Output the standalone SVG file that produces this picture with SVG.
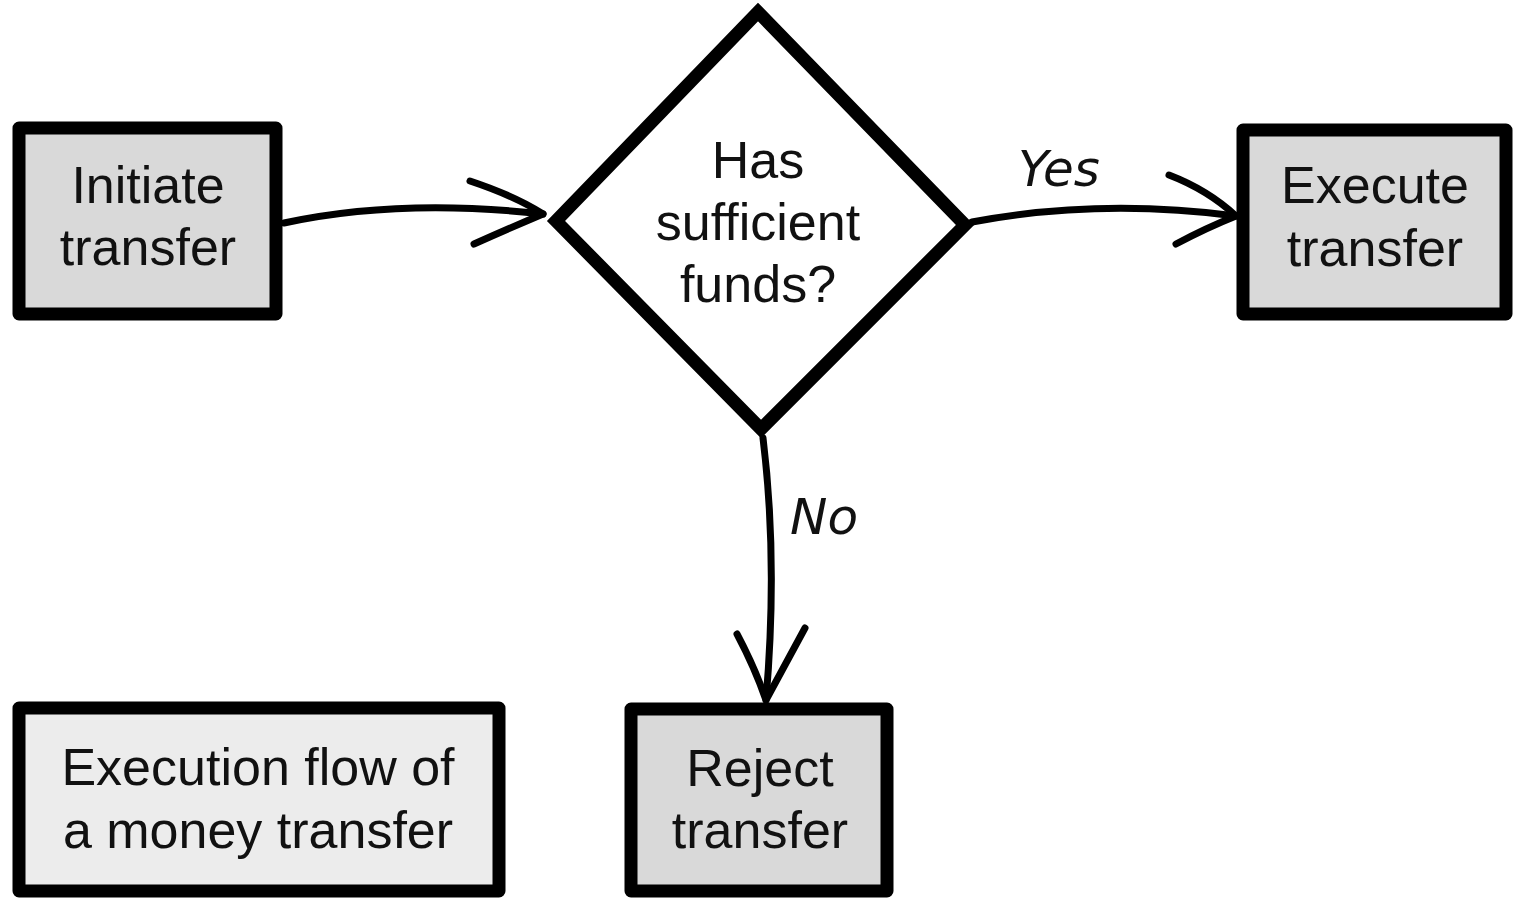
<svg xmlns="http://www.w3.org/2000/svg" width="1523" height="901" viewBox="0 0 1523 901">
<style>
.box{fill:#d9d9d9;stroke:#000;stroke-width:13;stroke-linejoin:round}
.note{fill:#ececec;stroke:#000;stroke-width:13;stroke-linejoin:round}
.dia{fill:#fff;stroke:#000;stroke-width:13;stroke-linejoin:miter}
.t{font-family:"Liberation Sans",Arial,sans-serif;font-size:52px;fill:#111;text-anchor:middle}
.lbl{font-family:"DejaVu Sans",sans-serif;font-style:italic;font-size:50px;fill:#111}
.ln{fill:none;stroke:#000;stroke-width:7;stroke-linecap:round;stroke-linejoin:round}
</style>
<rect width="1523" height="901" fill="#fff"/>
<g id="connectors">
<path class="ln" d="M284,223 Q400,198 543,214"/>
<path class="ln" d="M470,181 Q515,196 543,214 Q510,228 474,244"/>
<path class="ln" d="M972,222 Q1100,198 1236,216"/>
<path class="ln" d="M1169,175 Q1208,190 1236,216 Q1206,228 1176,244"/>
<path class="ln" d="M763,438 Q778,560 766,700"/>
<path class="ln" d="M737,634 Q755,668 766,700 Q785,665 805,628"/>
<text class="lbl" x="1018" y="186">Yes</text>
<text class="lbl" x="790" y="534">No</text>
</g>
<g id="initiate">
<rect class="box" x="19" y="128" width="257" height="186"/>
<text class="t" x="148" y="203">Initiate</text>
<text class="t" x="148" y="265">transfer</text>
</g>
<g id="decision">
<polygon class="dia" points="758,12 556,221 761,429 965,225"/>
<text class="t" x="758" y="178">Has</text>
<text class="t" x="758" y="240">sufficient</text>
<text class="t" x="758" y="302">funds?</text>
</g>
<g id="execute">
<rect class="box" x="1243" y="130" width="263" height="184"/>
<text class="t" x="1375" y="203">Execute</text>
<text class="t" x="1375" y="266">transfer</text>
</g>
<g id="reject">
<rect class="box" x="631" y="709" width="256" height="182"/>
<text class="t" x="760" y="786">Reject</text>
<text class="t" x="760" y="848">transfer</text>
</g>
<g id="caption">
<rect class="note" x="19" y="708" width="480" height="183"/>
<text class="t" x="258" y="785">Execution flow of</text>
<text class="t" x="258" y="848">a money transfer</text>
</g>
</svg>
